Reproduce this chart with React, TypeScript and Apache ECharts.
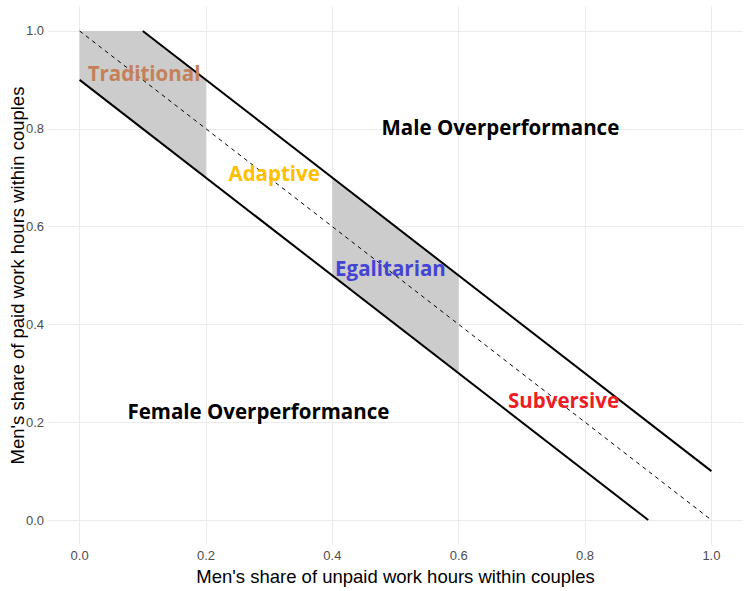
import React, { useEffect, useRef } from "react";
import * as echarts from "echarts";

const tickValues = [0, 0.2, 0.4, 0.6, 0.8, 1.0];
const upperLine = [[0.1, 1.0], [1.0, 0.1]];
const lowerLine = [[0.0, 0.9], [0.9, 0.0]];
const equalityLine = [[0.0, 1.0], [1.0, 0.0]];
const traditionalBand = [[0.0, 0.9], [0.2, 0.7], [0.2, 0.9], [0.1, 1.0], [0.0, 1.0]];
const egalitarianBand = [[0.4, 0.5], [0.6, 0.3], [0.6, 0.5], [0.4, 0.7]];
const bands = [traditionalBand, egalitarianBand];
const regionNames = ["Traditional", "Adaptive", "Egalitarian", "Subversive", "Male Overperformance", "Female Overperformance"];
const regionX = [0.102, 0.308, 0.492, 0.766, 0.666, 0.283];
const regionY = [0.914, 0.71, 0.515, 0.245, 0.804, 0.223];
const regionColors = ["#C5805A", "#FFC000", "#4444D4", "#EE1D25", "#000000", "#000000"];

export default function App() {
  const ref = useRef<HTMLDivElement>(null);
  useEffect(() => {
    if (!ref.current) return;
    const chart = echarts.init(ref.current, null, { renderer: "svg" });
    const axisCommon = {
      type: "value",
      min: -0.05,
      max: 1.05,
      axisLine: { show: false },
      axisTick: { show: false, customValues: tickValues },
      splitLine: { show: true, lineStyle: { color: "#ebebeb", width: 1 } },
      nameLocation: "middle",
      nameMoveOverlap: false,
      nameTextStyle: { fontFamily: "Liberation Sans", fontSize: 18.5, color: "#000" },
    };
    const labelCommon = {
      customValues: tickValues,
      formatter: (v: number) => v.toFixed(1),
      color: "#4d4d4d",
      fontFamily: "Liberation Sans",
      fontSize: 13,
    };
    chart.setOption({
      animation: false,
      backgroundColor: "#ffffff",
      grid: { left: 48, right: 5, top: 6.5, bottom: 46.5, containLabel: false, outerBoundsMode: "none" },
      xAxis: {
        ...axisCommon,
        name: "Men's share of unpaid work hours within couples",
        nameGap: 22,
        axisLabel: { ...labelCommon, margin: 4 },
      },
      yAxis: {
        ...axisCommon,
        name: "Men's share of paid work hours within couples",
        nameGap: 21,
        axisLabel: { ...labelCommon, margin: 4 },
      },
      series: [
        {
          type: "custom",
          data: bands.map((_, i) => [i]),
          renderItem: (params: any, api: any) => {
            const pts = bands[params.dataIndex].map((p) => api.coord(p));
            return { type: "polygon", shape: { points: pts }, style: { fill: "#cccccc" } };
          },
          silent: true,
          z: 1,
        },
        {
          type: "line",
          data: equalityLine,
          symbol: "none",
          lineStyle: { color: "#000", width: 1, type: [4, 4] },
          z: 2,
        },
        {
          type: "line",
          data: upperLine,
          symbol: "none",
          lineStyle: { color: "#000", width: 2 },
          z: 3,
        },
        {
          type: "line",
          data: lowerLine,
          symbol: "none",
          lineStyle: { color: "#000", width: 2 },
          z: 3,
        },
        {
          type: "scatter",
          symbolSize: 0,
          z: 5,
          itemStyle: { opacity: 1 },
          data: regionNames.map((n, i) => ({
            name: n,
            value: [regionX[i], regionY[i]],
            label: { color: regionColors[i] },
          })),
          label: {
            show: true,
            position: "inside",
            formatter: (p: any) => p.name,
            fontFamily: "Open Sans",
            fontWeight: "bold",
            fontSize: 20.5,
            opacity: 1,
          },
        },
      ],
    });
    return () => chart.dispose();
  }, []);
  return <div ref={ref} style={{ position: "absolute", left: 0, top: 0, width: 748, height: 591 }} />;
}
